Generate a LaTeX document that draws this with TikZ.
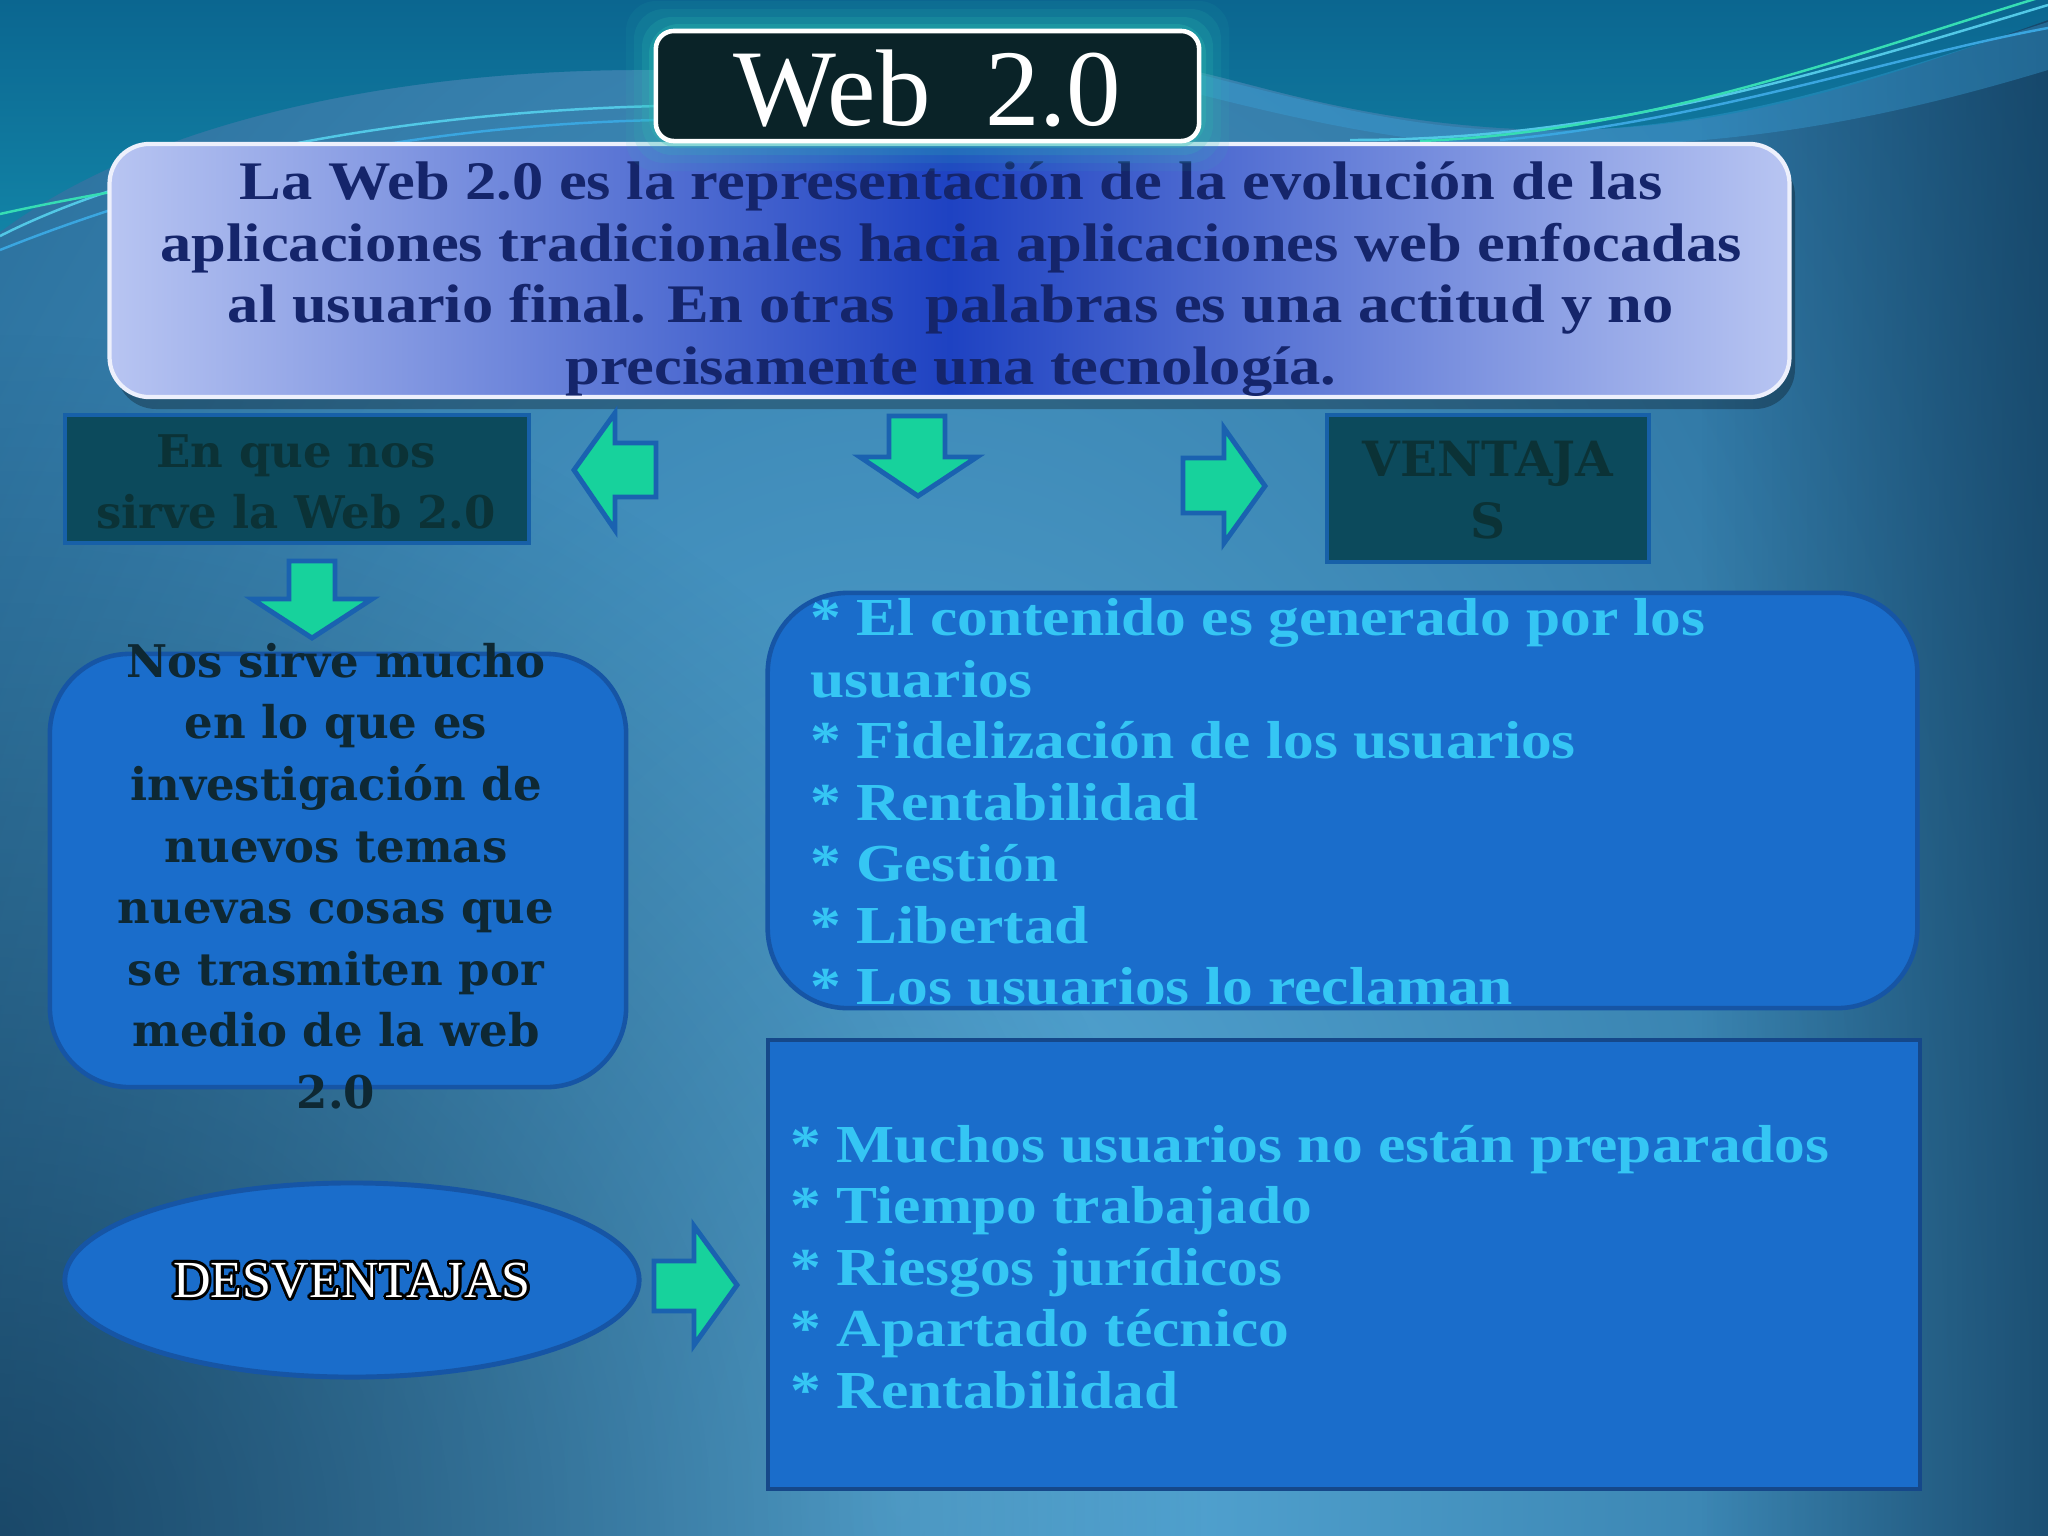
\documentclass[tikz,border=0pt]{standalone}
\usepackage{fontspec}
\setmainfont{Liberation Serif}
\newfontfamily\stretchserif[FakeStretch=1.15]{Liberation Serif}
\newfontfamily\wideserif{DejaVu Serif}
\usepackage{contour}
\contourlength{0.8pt}
\usetikzlibrary{shapes.geometric,fadings}

\definecolor{bgdark}{HTML}{0F4C78}
\definecolor{bglight}{HTML}{5AAEDC}
\definecolor{vig}{HTML}{06223A}
\definecolor{tealtop}{HTML}{0B6690}
\definecolor{tealbot}{HTML}{1283A6}
\definecolor{descedge}{HTML}{B8C5F2}
\definecolor{desccenter}{HTML}{1E42C2}
\definecolor{desctext}{HTML}{15256B}
\definecolor{titlefill}{HTML}{0A2328}
\definecolor{glow}{HTML}{2EC2B2}
\definecolor{darkbox}{HTML}{0C4A5C}
\definecolor{darkboxline}{HTML}{1760A8}
\definecolor{darkboxtext}{HTML}{0B3236}
\definecolor{bluebox}{HTML}{1A6DCB}
\definecolor{blueboxline}{HTML}{1655A5}
\definecolor{rectline}{HTML}{15488A}
\definecolor{nostext}{HTML}{0E2833}
\definecolor{listcyan}{HTML}{35C6F4}
\definecolor{arrowfill}{HTML}{17D29C}
\definecolor{arrowline}{HTML}{1A62B0}
\definecolor{line1}{HTML}{52C8E6}
\definecolor{line2}{HTML}{36DDB4}
\definecolor{line3}{HTML}{3AA6E0}

\tikzfading[name=fadeR, left color=transparent!100, right color=transparent!0]
\tikzfading[name=fadeCircle, inner color=transparent!0, outer color=transparent!100]

\begin{document}
\begin{tikzpicture}[x=0.01cm,y=-0.01cm,
  blockarrow/.style={fill=arrowfill, draw=arrowline, line width=1.4pt, line join=miter},
  titlebox/.style={draw=white, line width=1.3pt, fill=titlefill, rounded corners=0.18cm, minimum width=5.43cm, minimum height=1.10cm, inner sep=0},
  descbox/.style={draw=white!75!descedge, line width=1.2pt, left color=descedge, right color=descedge, middle color=desccenter, rounded corners=0.4cm, minimum width=16.79cm, minimum height=2.53cm, inner sep=0},
  desctxt/.style={font=\stretchserif\bfseries\fontsize{15.45pt}{17.5pt}\selectfont, text=desctext, align=center, inner sep=0},
  darkboxstyle/.style={draw=darkboxline, line width=1.1pt, fill=darkbox, inner sep=0},
  darkboxtxt/.style={font=\wideserif\bfseries\fontsize{12.8pt}{17.4pt}\selectfont, text=darkboxtext, align=center, inner sep=0},
  blueboxstyle/.style={draw=blueboxline, line width=1.3pt, fill=bluebox, inner sep=0},
  nostxt/.style={font=\wideserif\bfseries\fontsize{12.8pt}{17.5pt}\selectfont, text=nostext, align=center, inner sep=0},
  listtxt/.style={font=\stretchserif\bfseries\fontsize{15.2pt}{17.5pt}\selectfont, text=listcyan, align=left, inner sep=0, anchor=west},
  thinline/.style={line width=0.7pt}
]
\useasboundingbox (0,0) rectangle (2048,1536);

% ---------- background ----------
\begin{scope}
  \clip (0,0) rectangle (2048,1536);
  \fill[bgdark] (0,0) rectangle (2048,1536);
  \shade[inner color=bglight, outer color=bgdark] (900,1500) ellipse [x radius=20cm, y radius=32cm];
  \fill[vig, opacity=0.6, path fading=fadeCircle] (0,1536) circle (12cm);
  \fill[vig, opacity=0.45, path fading=fadeR] (1700,0) rectangle (2048,1536);
  % teal top region
  \shade[top color=tealtop, bottom color=tealbot]
    (0,0) -- (2048,0) -- (2048,20)
    .. controls (1850,90) and (1700,140) .. (1500,128)
    .. controls (1350,118) and (1260,85) .. (1190,70)
    -- (660,70) .. controls (400,68) and (150,120) .. (0,232) -- cycle;
  % light swoosh band top right
  \fill[line3, opacity=0.35]
    (1190,72) .. controls (1300,100) and (1400,126) .. (1500,130)
    .. controls (1700,138) and (1850,85) .. (2048,22)
    -- (2048,70) .. controls (1850,130) and (1700,150) .. (1500,146)
    .. controls (1400,142) and (1300,120) .. (1190,92) -- cycle;
  % thin light lines
  \draw[line1, thinline] (1350,140) .. controls (1600,140) and (1800,80) .. (2048,5);
  \draw[line2, thinline] (1420,141) .. controls (1650,132) and (1850,55) .. (2048,-5);
  \draw[line3, thinline] (1500,140) .. controls (1700,122) and (1900,55) .. (2048,28);
  \draw[line1, thinline] (0,236) .. controls (150,160) and (400,112) .. (660,106);
  \draw[line3, thinline] (0,250) .. controls (200,170) and (420,125) .. (660,120);
  \draw[line2, thinline] (0,214) .. controls (80,196) and (200,176) .. (300,162);
\end{scope}

% ---------- description box ----------
\fill[black, opacity=0.28, rounded corners=0.4cm] (116,156) rectangle (1795,409);
\node[descbox] (desc) at (949.5,270.5) {};
\node[desctxt] (desctext) at (951,279) {La Web 2.0 es la representación de la evolución de las\\
aplicaciones tradicionales hacia aplicaciones web enfocadas\\
al usuario final. En otras\ \ palabras es una actitud y no\\
precisamente una tecnología.};

% ---------- title ----------
\foreach \g/\o in {30/0.08,22/0.12,14/0.18,7/0.28}
  \fill[glow, opacity=\o, rounded corners=0.3cm] ({656-\g},{31-\g}) rectangle ({1199+\g},{141+\g});
\node[titlebox] (title) at (927.5,86) {};
\node[font=\fontsize{31pt}{36pt}\selectfont, text=white, inner sep=0] (titletext) at (927.5,88) {Web\ \ 2.0};

% ---------- dark label boxes ----------
\node[darkboxstyle, minimum width=4.64cm, minimum height=1.28cm] (sirve) at (297,479) {};
\node[darkboxtxt] (sirvetext) at (296,482) {En que nos\\ sirve la Web 2.0};

\node[darkboxstyle, minimum width=3.22cm, minimum height=1.47cm] (vent) at (1488,488.5) {};
\node[darkboxtxt, font=\wideserif\bfseries\fontsize{13.8pt}{17.6pt}\selectfont] (venttext) at (1488,490) {VENTAJA\\ S};

% ---------- block arrows ----------
\filldraw[blockarrow] (574,470) -- (615,413) -- (615,443) -- (656,443) -- (656,497) -- (615,497) -- (615,530) -- cycle;
\filldraw[blockarrow] (889,416) -- (945,416) -- (945,457) -- (977,457) -- (918,496) -- (860,457) -- (889,457) -- cycle;
\filldraw[blockarrow] (1183,458) -- (1224,458) -- (1224,428) -- (1265,486) -- (1224,543) -- (1224,513) -- (1183,513) -- cycle;
\filldraw[blockarrow] (289,561) -- (335,561) -- (335,599) -- (372,599) -- (312,638) -- (252,599) -- (289,599) -- cycle;
\filldraw[blockarrow] (654,1261) -- (694,1261) -- (694,1226) -- (737,1285) -- (694,1345) -- (694,1311) -- (654,1311) -- cycle;

% ---------- left rounded box ----------
\node[blueboxstyle, rounded corners=0.8cm, minimum width=5.76cm, minimum height=4.33cm] (nos) at (338,870.5) {};
\node[nostxt] (nostext) at (336,876) {Nos sirve mucho\\ en lo que es\\ investigación de\\ nuevos temas\\ nuevas cosas que\\ se trasmiten por\\ medio de la web\\ 2.0};

% ---------- ventajas list ----------
\node[blueboxstyle, rounded corners=0.8cm, minimum width=11.49cm, minimum height=4.15cm] (ventlist) at (1342.5,800.5) {};
\node[listtxt] (ventlisttext) at (810,802) {* El contenido es generado por los\\
usuarios\\
* Fidelización de los usuarios\\
* Rentabilidad\\
* Gestión\\
* Libertad\\
* Los usuarios lo reclaman};

% ---------- desventajas ----------
\node[ellipse, draw=blueboxline, line width=1.4pt, fill=bluebox, minimum width=5.74cm, minimum height=1.94cm, inner sep=0] (desv) at (352,1280) {};
\node[font=\fontsize{14.8pt}{17pt}\selectfont, text=white, inner sep=0] (desvtext) at (352,1282) {\contour{black}{DESVENTAJAS}};

\node[draw=rectline, line width=1.2pt, fill=bluebox, minimum width=11.52cm, minimum height=4.49cm, inner sep=0] (desvlist) at (1344,1264.5) {};
\node[listtxt] (desvlisttext) at (790,1267) {* Muchos usuarios no están preparados\\
* Tiempo trabajado\\
* Riesgos jurídicos\\
* Apartado técnico\\
* Rentabilidad};

\end{tikzpicture}
\end{document}
